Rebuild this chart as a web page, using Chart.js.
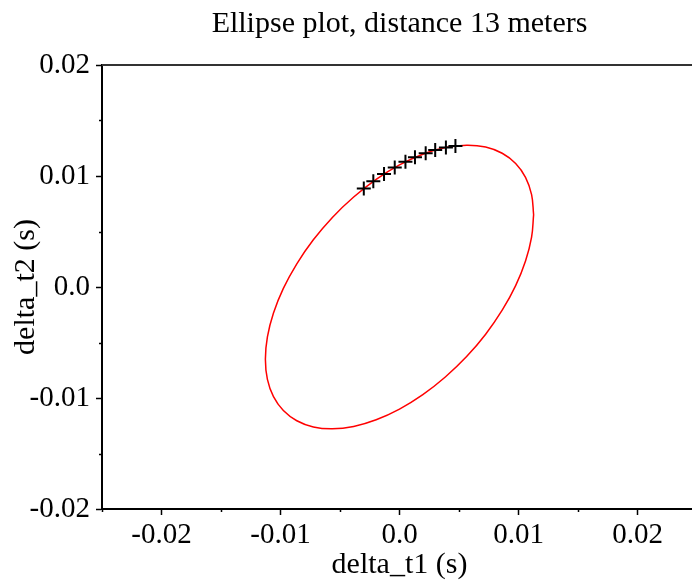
<!DOCTYPE html>
<html>
<head>
<meta charset="utf-8">
<script src="https://cdn.jsdelivr.net/npm/chart.js@4"></script>
<style>
  html, body { margin: 0; padding: 0; background: #fff; overflow: hidden; }
  #wrap { position: relative; width: 700px; height: 580px; }
</style>
</head>
<body>
<div id="wrap"><canvas id="chartEllipse"></canvas></div>
<script>
// ellipse outline (seconds)
const ellipseX = [0.01127, 0.01110, 0.01059, 0.00976, 0.00863, 0.00724, 0.00564, 0.00385, 0.00196, 0.0,
    -0.00196, -0.00385, -0.00564, -0.00724, -0.00863, -0.00976, -0.01059, -0.01110, -0.01127,
    -0.01110, -0.01059, -0.00976, -0.00863, -0.00724, -0.00564, -0.00385, -0.00196, 0.0,
    0.00196, 0.00385, 0.00564, 0.00724, 0.00863, 0.00976, 0.01059, 0.01110, 0.01127];
const ellipseY = [0.00651, 0.00832, 0.00988, 0.01113, 0.01205, 0.01261, 0.01278, 0.01256, 0.01196, 0.01100,
    0.00970, 0.00811, 0.00627, 0.00425, 0.00209, -0.00013, -0.00235, -0.00450, -0.00651,
    -0.00832, -0.00988, -0.01113, -0.01205, -0.01261, -0.01278, -0.01256, -0.01196, -0.01100,
    -0.00970, -0.00811, -0.00627, -0.00425, -0.00209, 0.00013, 0.00235, 0.00450, 0.00651];

// measured points (+ markers)
const pointsX = [-0.0030, -0.0022, -0.0013, -0.0004, 0.0005, 0.0013, 0.0022, 0.0030, 0.0039, 0.0047];
const pointsY = [0.00888, 0.00952, 0.01018, 0.01076, 0.01128, 0.01168, 0.01206, 0.01234, 0.01257, 0.01271];

// ticks (empty label = minor tick)
const xTickValues = [-0.025, -0.02, -0.015, -0.01, -0.005, 0, 0.005, 0.01, 0.015, 0.02, 0.025];
const xTickLabels = ['', '-0.02', '', '-0.01', '', '0.0', '', '0.01', '', '0.02', ''];
const yTickValues = [-0.02, -0.015, -0.01, -0.005, 0, 0.005, 0.01, 0.015, 0.02];
const yTickLabels = ['-0.02', '', '-0.01', '', '0.0', '', '0.01', '', '0.02'];

const serif = 'Liberation Serif';
const ctxEllipse = document.getElementById('chartEllipse');

// short minor ticks + top frame line
const frameTicks = {
    id: 'frameTicks',
    afterDraw(chart) {
        const c = chart.ctx;
        const area = chart.chartArea;
        const sx = chart.scales.x;
        const sy = chart.scales.y;
        c.save();
        c.strokeStyle = '#000';
        c.lineWidth = 1.5;
        c.beginPath();
        xTickValues.forEach((v, i) => {
            if (xTickLabels[i] !== '') return;
            const px = Math.round(sx.getPixelForValue(v)) + 0.5;
            c.moveTo(px, area.bottom);
            c.lineTo(px, area.bottom + 3);
        });
        yTickValues.forEach((v, i) => {
            if (yTickLabels[i] !== '') return;
            const py = Math.round(sy.getPixelForValue(v)) + 0.5;
            c.moveTo(area.left - 3, py);
            c.lineTo(area.left, py);
        });
        c.stroke();
        c.strokeStyle = '#333';
        c.lineWidth = 2;
        c.beginPath();
        c.moveTo(area.left, area.top);
        c.lineTo(area.right, area.top);
        c.stroke();
        c.restore();
    }
};

new Chart(ctxEllipse, {
    type: 'scatter',
    data: {
        datasets: [{
            label: 'points',
            data: pointsX.map((x, i) => ({x: x, y: pointsY[i]})),
            pointStyle: 'cross',
            pointRadius: 7,
            pointBorderWidth: 2,
            borderColor: '#000',
            backgroundColor: '#000',
            showLine: false
        }, {
            label: 'ellipse',
            data: ellipseX.map((x, i) => ({x: x, y: ellipseY[i]})),
            showLine: true,
            borderColor: '#ff0000',
            borderWidth: 1.5,
            pointRadius: 0,
            tension: 0.4
        }]
    },
    options: {
        responsive: true,
        maintainAspectRatio: false,
        animation: false,
        devicePixelRatio: 1,
        // plot area runs past the right edge of the window, as in the original
        layout: { autoPadding: false, padding: 0 },
        plugins: {
            legend: { display: false },
            tooltip: { enabled: false },
            title: {
                display: true,
                fullSize: false,
                text: 'Ellipse plot, distance 13 meters',
                color: '#000',
                font: { family: serif, size: 30, weight: 'normal' },
                padding: { top: 6, bottom: 23 }
            }
        },
        scales: {
            x: {
                type: 'linear',
                min: -0.025,
                max: 0.025,
                afterBuildTicks: (scale) => { scale.ticks = xTickValues.map(v => ({value: v})); },
                afterFit: (scale) => { scale.height = 71; },
                ticks: {
                    autoSkip: false,
                    maxRotation: 0,
                    padding: 3,
                    color: '#000',
                    font: { family: serif, size: 29 },
                    callback: (value, index) => xTickLabels[index]
                },
                grid: {
                    drawOnChartArea: false,
                    tickLength: 6,
                    tickWidth: 1.5,
                    tickColor: (context) => (context.tick && xTickLabels[context.index] === '') ? 'rgba(0,0,0,0)' : '#000'
                },
                border: { color: '#000', width: 2 },
                title: {
                    display: true,
                    text: 'delta_t1 (s)',
                    color: '#000',
                    font: { family: serif, size: 30, lineHeight: 1 },
                    padding: { top: 0, bottom: 0 }
                }
            },
            y: {
                type: 'linear',
                min: -0.02,
                max: 0.02,
                afterBuildTicks: (scale) => { scale.ticks = yTickValues.map(v => ({value: v})); },
                afterFit: (scale) => { scale.width = 102; },
                ticks: {
                    autoSkip: false,
                    padding: 6,
                    color: '#000',
                    font: { family: serif, size: 29 },
                    callback: (value, index) => yTickLabels[index]
                },
                grid: {
                    drawOnChartArea: false,
                    tickLength: 6,
                    tickWidth: 1.5,
                    tickColor: (context) => (context.tick && yTickLabels[context.index] === '') ? 'rgba(0,0,0,0)' : '#000'
                },
                border: { color: '#000', width: 2 },
                title: {
                    display: true,
                    text: 'delta_t2 (s)',
                    color: '#000',
                    font: { family: serif, size: 30, lineHeight: 1 },
                    padding: { top: 11, bottom: 0 }
                }
            }
        }
    },
    plugins: [frameTicks]
});
</script>
</body>
</html>
